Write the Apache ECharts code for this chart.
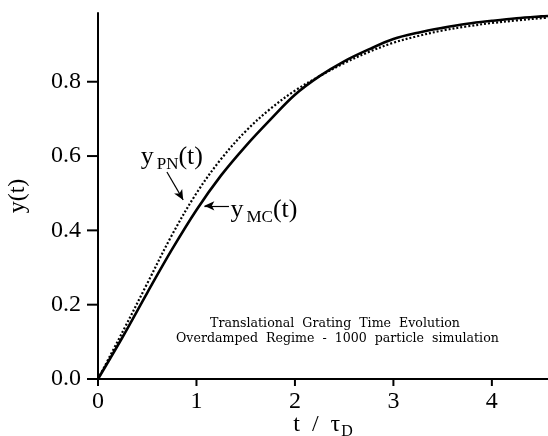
<!DOCTYPE html>
<html>
<head>
<meta charset="utf-8">
<script src="https://cdn.jsdelivr.net/npm/echarts@6/dist/echarts.min.js"></script>
<style>
  html, body { margin: 0; padding: 0; background: #fff; }
  #chart { width: 548px; height: 436px; }
</style>
</head>
<body>
<div id="chart"></div>
<script>
// Time axis in units of the diffusion time tau_D
const tValues = [0, 0.25, 0.5, 0.75, 1.0, 1.25, 1.5, 1.75, 2.0, 2.25, 2.5, 2.75, 3.0, 3.25, 3.5, 3.75, 4.0, 4.25, 4.5, 4.57];
// Monte Carlo result (1000 particles), solid curve
const yMC = [0, 0.113, 0.232, 0.348, 0.455, 0.548, 0.627, 0.698, 0.765, 0.815, 0.855, 0.887, 0.915, 0.932, 0.945, 0.956, 0.964, 0.971, 0.976, 0.977];
// Perturbative / analytic prediction, dotted curve
const yPN = [0, 0.127, 0.257, 0.387, 0.500, 0.592, 0.667, 0.727, 0.776, 0.815, 0.850, 0.880, 0.905, 0.923, 0.938, 0.949, 0.958, 0.965, 0.971, 0.972];

const xTicks = [0, 1, 2, 3, 4];
const yTicks = [0, 0.2, 0.4, 0.6, 0.8];

const titleLines = [
  'Translational  Grating  Time  Evolution',
  'Overdamped  Regime  -  1000  particle  simulation'
];

const serif = 'Liberation Serif';
const X_MAX = 4.57;
const Y_MAX = 0.985;

const pairs = (xs, ys) => xs.map((x, i) => [x, ys[i]]);

// Only the listed tick values carry a label
const onlyTicks = (list, digits) => (v) =>
  list.some((t) => Math.abs(t - v) < 1e-6) ? v.toFixed(digits) : '';

const chart = echarts.init(document.getElementById('chart'));

const subLabel = (sub) => ({
  show: true,
  position: 'inside',
  formatter: '{y|y}{s|' + sub + '}{p|(t)}',
  rich: {
    y: { fontFamily: serif, fontSize: 26, color: '#000' },
    s: { fontFamily: serif, fontSize: 17, color: '#000', padding: [15, 0, 0, 3] },
    p: { fontFamily: serif, fontSize: 26, color: '#000' }
  }
});

const noteText = (text, left, top) => ({
  type: 'text',
  left: left,
  top: top,
  style: { text: text, fontFamily: 'DejaVu Serif', fontSize: 12.6, fill: '#000' }
});

// Outward tick marks drawn through the axis scales (dx, dy = tick direction in px)
const tickSeries = (name, data, dx, dy) => ({
  name: name,
  type: 'custom',
  silent: true,
  clip: false,
  z: 10,
  data: data,
  encode: { x: 0, y: 1 },
  renderItem: (params, api) => {
    const p = api.coord([api.value(0), api.value(1)]);
    return {
      type: 'line',
      shape: { x1: p[0], y1: p[1], x2: p[0] + dx, y2: p[1] + dy },
      style: { stroke: '#000', lineWidth: 2 }
    };
  }
});

chart.setOption({
  animation: false,
  backgroundColor: '#fff',
  grid: { left: 98, right: 0, top: 13, bottom: 57, containLabel: false, outerBoundsMode: 'none' },
  xAxis: {
    type: 'value',
    min: 0,
    max: X_MAX,
    interval: 1,
    name: '{a|t  /  τ}{s|D}',
    nameLocation: 'middle',
    nameGap: 31,
    nameMoveOverlap: false,
    nameTextStyle: {
      rich: {
        a: { fontFamily: serif, fontSize: 24, color: '#000' },
        s: { fontFamily: serif, fontSize: 16, color: '#000', padding: [14, 0, 0, 1] }
      }
    },
    axisLine: { show: true, onZero: false, lineStyle: { color: '#000', width: 2 } },
    axisTick: { show: false },
    axisLabel: {
      fontFamily: serif, fontSize: 24, color: '#000', margin: 11,
      showMaxLabel: false, hideOverlap: false,
      formatter: onlyTicks(xTicks, 0)
    },
    splitLine: { show: false }
  },
  yAxis: {
    type: 'value',
    min: 0,
    max: Y_MAX,
    interval: 0.2,
    name: 'y(t)',
    nameLocation: 'middle',
    nameGap: 68,
    nameMoveOverlap: false,
    nameRotate: 90,
    nameTextStyle: { fontFamily: serif, fontSize: 24, color: '#000' },
    axisLine: { show: true, onZero: false, lineStyle: { color: '#000', width: 2 } },
    axisTick: { show: false },
    axisLabel: {
      fontFamily: serif, fontSize: 24, color: '#000', margin: 17,
      showMaxLabel: false, hideOverlap: false,
      formatter: onlyTicks(yTicks, 1)
    },
    splitLine: { show: false }
  },
  series: [
    {
      name: 'MC',
      type: 'line',
      data: pairs(tValues, yMC),
      smooth: 0.35,
      showSymbol: false,
      lineStyle: { color: '#000', width: 2.6, type: 'solid' },
      z: 3,
      markLine: {
        silent: true,
        symbol: ['none', 'arrow'],
        symbolSize: [7, 10],
        lineStyle: { color: '#000', width: 1.2, type: 'solid' },
        label: { show: false },
        data: [[{ coord: [1.33, 0.466] }, { coord: [1.08, 0.466] }]]
      },
      markPoint: {
        silent: true,
        symbol: 'rect',
        symbolSize: [1, 1],
        itemStyle: { color: 'rgba(0,0,0,0)' },
        label: Object.assign(subLabel('MC'), { position: 'right', distance: 0 }),
        data: [{ coord: [1.34, 0.455] }]
      }
    },
    {
      name: 'PN',
      type: 'line',
      data: pairs(tValues, yPN),
      smooth: 0.35,
      showSymbol: false,
      lineStyle: { color: '#000', width: 2.2, type: [2, 2] },
      z: 2,
      markLine: {
        silent: true,
        symbol: ['none', 'arrow'],
        symbolSize: [7, 10],
        lineStyle: { color: '#000', width: 1.2, type: 'solid' },
        label: { show: false },
        data: [[{ coord: [0.70, 0.557] }, { coord: [0.865, 0.482] }]]
      },
      markPoint: {
        silent: true,
        symbol: 'rect',
        symbolSize: [1, 1],
        itemStyle: { color: 'rgba(0,0,0,0)' },
        label: subLabel('PN'),
        data: [{ coord: [0.75, 0.597] }]
      }
    },
    tickSeries('yTicks', yTicks.map((v) => [0, v]), -11, 0),
    tickSeries('xTicks', xTicks.map((v) => [v, 0]), 0, 7)
  ],
  graphic: [noteText(titleLines[0], 210, 317), noteText(titleLines[1], 176, 332)]
});
</script>
</body>
</html>
